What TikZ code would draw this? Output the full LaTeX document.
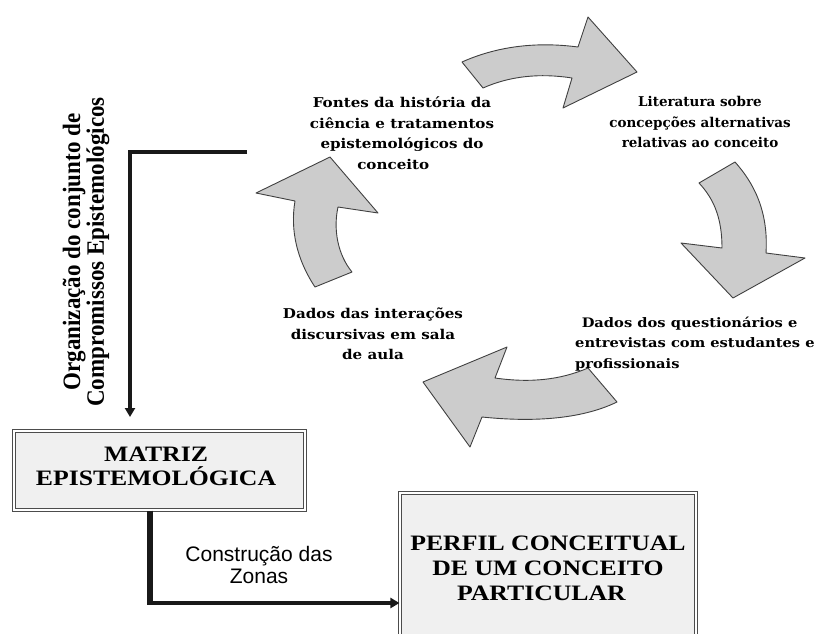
\documentclass[tikz,border=0pt]{standalone}
\usepackage{fontspec}
\setmainfont{Liberation Serif}
\newfontfamily\cyclefont[FakeStretch=1.12]{DejaVu Serif}
\newfontfamily\cyclefontn{DejaVu Serif}
\newfontfamily\boxfont[FakeStretch=1.17]{Liberation Serif}
\newfontfamily\vertfont[FakeStretch=0.92]{Liberation Serif}
\newfontfamily\sansfont{Liberation Sans}
\usetikzlibrary{arrows.meta}
\begin{document}
\begin{tikzpicture}[x=1pt,y=-1pt,
  cyclearrow/.style={fill=black!20, draw=black!75, line width=0.9pt, line join=round},
  cycletext/.style={font=\cyclefont\bfseries\fontsize{13.5}{20.5}\selectfont, align=center, inner sep=0pt},
  bigbox/.style={draw=black!70, double=white, double distance=2.2pt, line width=1.1pt, fill=black!6, inner sep=0pt},
  boxtext/.style={font=\boxfont\bfseries\fontsize{22}{24}\selectfont, align=center, inner sep=0pt},
  conn/.style={line width=3.2pt, black!90},
  tip/.style={-{Triangle[length=9pt,width=10pt]}}
]
\useasboundingbox (0,0) rectangle (820,633);

% cycle arrows
\path[cyclearrow] (462,62) .. controls (500,45) and (540,42) .. (578,47) -- (588,17) -- (637,72) -- (563,108) -- (572,78) .. controls (540,73) and (510,76) .. (483,88) -- cycle;
\path[cyclearrow] (735,162) .. controls (760,190) and (768,220) .. (766,253) -- (805,258) -- (733,298) -- (681,243) -- (722,248) .. controls (722,220) and (715,200) .. (699,183) -- cycle;
\path[cyclearrow] (588,368) .. controls (560,380) and (530,383) .. (495,378) -- (507,347) -- (423,382) -- (470,447) -- (482,417) .. controls (530,422) and (580,420) .. (617,402) -- cycle;
\path[cyclearrow] (315,287) .. controls (297,260) and (290,230) .. (295,201) -- (256,193) -- (330,157) -- (378,213) -- (338,207) .. controls (333,230) and (338,255) .. (352,272) -- cycle;

% cycle texts
\node[cycletext] (fontes) at (402,133) {Fontes da história da\\ciência e tratamentos\\epistemológicos do\\conceito\hspace*{1.3em}};
\node[cycletext, font=\cyclefontn\bfseries\fontsize{13.5}{20.5}\selectfont] (lit) at (700,122) {Literatura sobre\\concepções alternativas\\relativas ao conceito};
\node[cycletext, font=\cyclefont\bfseries\fontsize{13.1}{20.5}\selectfont, align=left, anchor=west] (quest) at (575,344) {\hspace*{0.5em}Dados dos questionários e\\entrevistas com estudantes e\\profissionais};
\node[cycletext] (inter) at (373,334) {Dados das interações\\discursivas em sala\\de aula};

% vertical label
\node[rotate=90, font=\vertfont\bfseries\fontsize{25}{22}\selectfont, align=center, inner sep=0pt] (org) at (86,252) {Organização do conjunto de\\Compromissos Epistemológicos};

% boxes
\node[bigbox, minimum width=291pt, minimum height=79pt] (matriz) at (159.5,470.5) {};
\node[boxtext] (matriztext) at (156,466) {MATRIZ\\EPISTEMOLÓGICA};
\node[bigbox, minimum width=296pt, minimum height=150pt] (perfil) at (548,568) {};
\node[boxtext, font=\boxfont\bfseries\fontsize{22}{25}\selectfont] (perfiltext) at (548,568) {PERFIL CONCEITUAL\\DE UM CONCEITO\\PARTICULAR\hspace*{0.6em}};

% connectors
\coordinate (c1) at (247,152);
\coordinate (c2) at (130,152);
\coordinate (c3) at (130,417);
\draw[conn, tip] (c1) -- (c2) -- (c3);

\coordinate (c4) at (150,603);
\draw[line width=6pt, black!90] (matriz.south -| c4) -- ([yshift=-1.6pt]c4);
\draw[conn, tip] ([xshift=-3pt]c4) -- (perfil.west |- c4);

\node[font=\sansfont\fontsize{21}{22}\selectfont, align=center, inner sep=0pt] (zonas) at (259,565) {Construção das\\Zonas};
\end{tikzpicture}
\end{document}
